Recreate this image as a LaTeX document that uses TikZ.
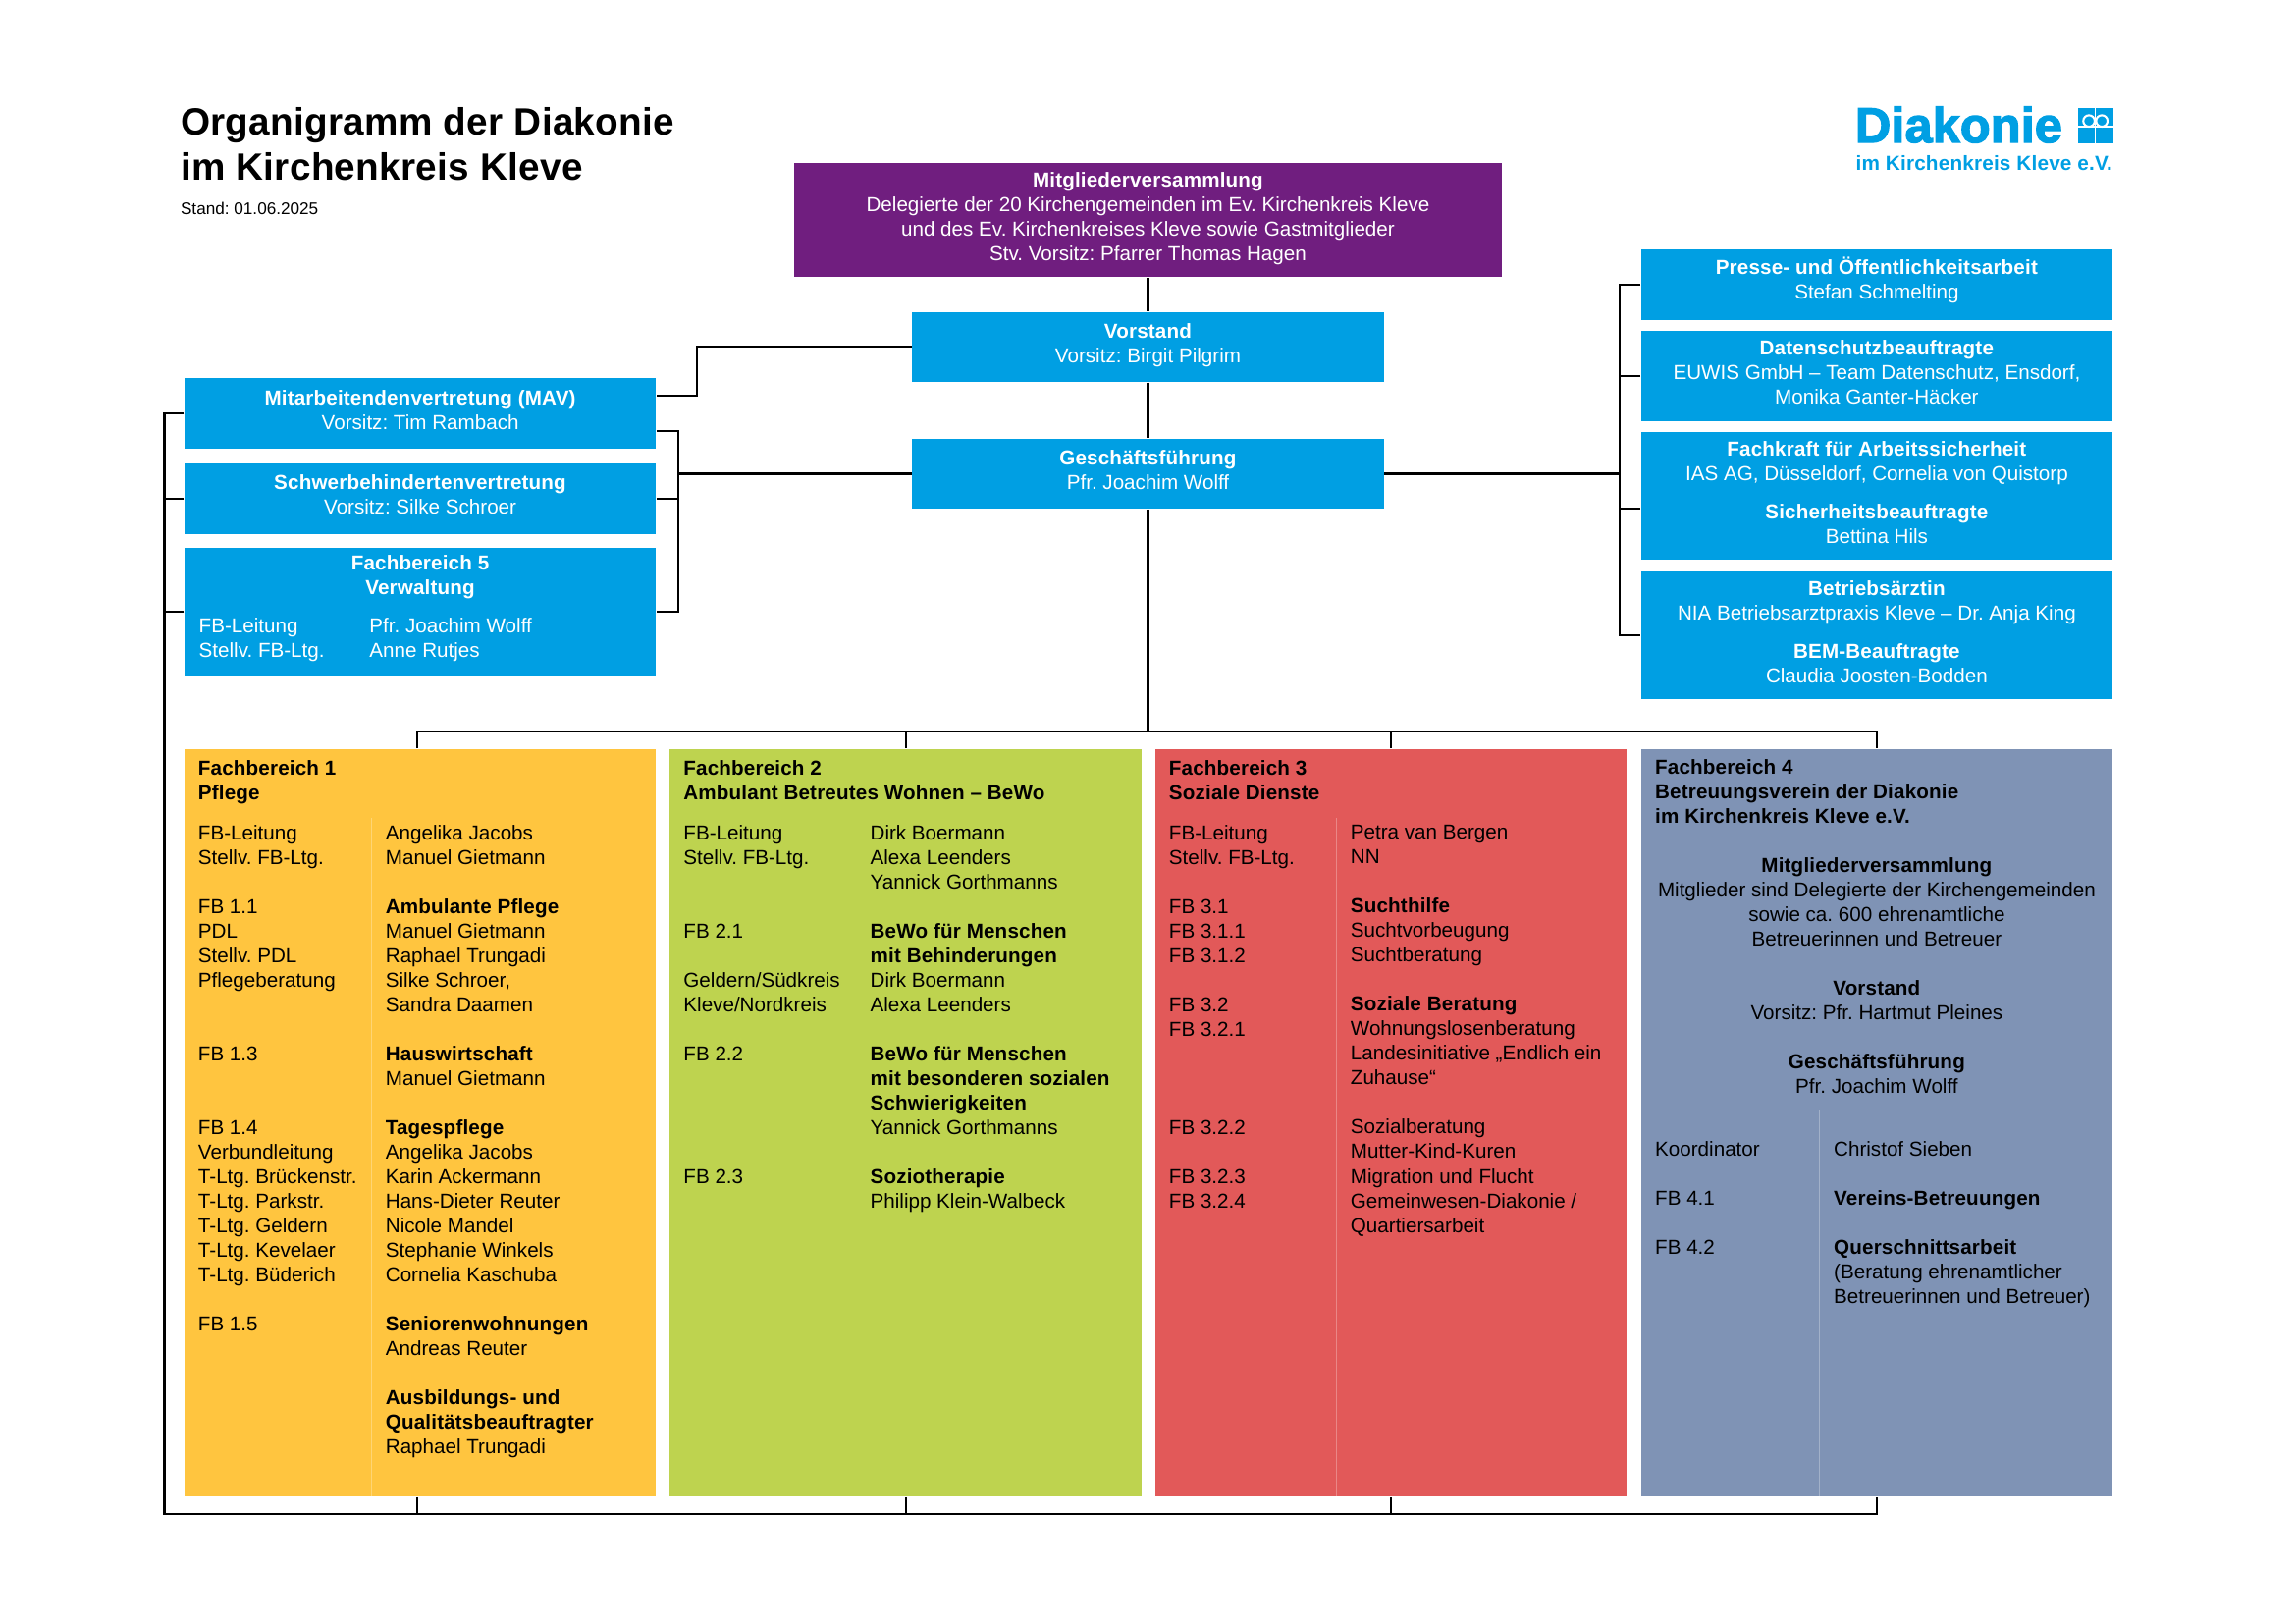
\documentclass[tikz,border=0pt]{standalone}
\usepackage{fontspec}
\setmainfont{Liberation Sans}[BoldFeatures={LetterSpace=0.8}]
\newfontfamily\logofont[FakeBold=2.4]{Liberation Sans Bold}
\usetikzlibrary{positioning,calc}
\definecolor{diablue}{HTML}{009FE3}
\definecolor{diapurple}{HTML}{701E7F}
\definecolor{diayellow}{HTML}{FFC53F}
\definecolor{diagreen}{HTML}{BED34F}
\definecolor{diared}{HTML}{E25959}
\definecolor{diaslate}{HTML}{7F93B5}
\frenchspacing
\tikzset{
  body text/.style={font=\fontsize{7.45}{9.04}\selectfont,inner sep=0pt,execute at begin node=\strut},
  main box/.style={body text,rectangle,fill=diablue,text=white,align=center,minimum width=61mm,
    execute at end node={\rule[-2pt]{0pt}{2pt}}},
  panel/.style={rectangle,minimum width=61mm,minimum height=96.7mm,inner sep=0pt},
  col text/.style={body text,anchor=north west,align=left},
  conn/.style={draw=black,line width=0.8pt},
  sep line/.style={draw=white,draw opacity=0.28,line width=0.4pt},
}
\begin{document}
\begin{tikzpicture}[x=0.18942mm,y=-0.18942mm,on grid]
  \useasboundingbox (0,-0.3) rectangle (1568,1108.3);
  % title
  \node[anchor=north west,inner sep=0pt,align=left,font=\fontsize{13.98}{16.6}\selectfont\bfseries] (title) at (123,73) {Organigramm der Diakonie\\im Kirchenkreis Kleve};
  \node[anchor=north west,inner sep=0pt,font=\fontsize{6.2}{8}\selectfont] (stand) at (123,137.5) {Stand: 01.06.2025};
  % logo
  \node[anchor=base west,inner sep=0pt,text=diablue,font=\logofont\fontsize{18.3}{20}\selectfont] (logo) at (1266.5,97) {Diakonie};
  \node[anchor=base east,inner sep=0pt,text=diablue,font=\fontsize{7.5}{9}\selectfont\bfseries] (logosub) at (1443,115.8) {im Kirchenkreis Kleve e.V.};
  \fill[diablue] (1419,73.7) rectangle (1443,97.5);
  \draw[white,line width=0.5pt] (1419,86.2) -- (1443,86.2) (1431,73.7) -- (1431,97.5);
  \draw[white,line width=0.75pt] (1426.6,82.3) circle (3.9) (1435.4,82.3) circle (3.9);
  % centre column
  \node[main box,fill=diapurple,minimum width=91.5mm,minimum height=14.8mm] (mv) at (784,150) {\textbf{Mitgliederversammlung}\\Delegierte der 20 Kirchengemeinden im Ev. Kirchenkreis Kleve\\und des Ev. Kirchenkreises Kleve sowie Gastmitglieder\\Stv. Vorsitz: Pfarrer Thomas Hagen};
  \node[main box,minimum height=9.1mm] (vor) [below = 16.4mm of mv] {\textbf{Vorstand}\\Vorsitz: Birgit Pilgrim};
  \node[main box,minimum height=9.1mm] (gf) [below = 16.4mm of vor] {\textbf{Geschäftsführung}\\Pfr. Joachim Wolff};
  % left boxes
  \node[main box,minimum height=9.1mm] (mav) at (287,282) {\textbf{Mitarbeitendenvertretung (MAV)}\\Vorsitz: Tim Rambach};
  \node[main box,minimum height=9.1mm] (sbv) [below = 11mm of mav] {\textbf{Schwerbehindertenvertretung}\\Vorsitz: Silke Schroer};
  \node[main box,minimum height=16.5mm] (fb5) at (287,417.5) {};
  \node[body text,text=white,align=center] (fb5head) at (287,395) {\textbf{Fachbereich 5}\\\textbf{Verwaltung}};
  \node[col text,text=white] (fb5left) at (135.5,421.5) {FB-Leitung\\Stellv. FB-Ltg.};
  \node[col text,text=white] (fb5right) at (252,421.5) {Pfr. Joachim Wolff\\Anne Rutjes};
  % right boxes
  \node[main box,minimum height=9.1mm,execute at end node={\rule[-4.8pt]{0pt}{4.8pt}}] (presse) at (1281.7,194) {\textbf{Presse- und Öffentlichkeitsarbeit}\\Stefan Schmelting};
  \node[main box,minimum height=11.6mm] (daten) at (1281.7,256.5) {\textbf{Datenschutzbeauftragte}\\EUWIS GmbH – Team Datenschutz, Ensdorf,\\Monika Ganter-Häcker};
  \node[main box,minimum height=16.5mm] (fachkraft) at (1281.7,338.5) {\textbf{Fachkraft für Arbeitssicherheit}\\IAS AG, Düsseldorf, Cornelia von Quistorp\\[5.2pt]\textbf{Sicherheitsbeauftragte}\\Bettina Hils};
  \node[main box,minimum height=16.5mm] (betrieb) at (1281.7,433.5) {\textbf{Betriebsärztin}\\NIA Betriebsarztpraxis Kleve – Dr. Anja King\\[5.2pt]\textbf{BEM-Beauftragte}\\Claudia Joosten-Bodden};
  % panels
  \node[panel,fill=diayellow] (fb1) at (287,766.3) {};
  \node[panel,fill=diagreen] (fb2) [right = 62.8mm of fb1] {};
  \node[panel,fill=diared] (fb3) [right = 62.8mm of fb2] {};
  \node[panel,fill=diaslate] (fb4) [right = 62.8mm of fb3] {};
  \draw[sep line] (253.6,558) -- (253.6,1021.5);
  \draw[sep line] (912.9,558) -- (912.9,1021.5);
  \draw[sep line] (1242.5,757.6) -- (1242.5,1021.5);
  % FB 1
  \node[col text] (fb1head) at (135,518.3) {\textbf{Fachbereich 1}\\\textbf{Pflege}};
  \node[col text] (fb1left) at (135,562.8) {FB-Leitung\\Stellv. FB-Ltg.\\~\\FB 1.1\\PDL\\Stellv. PDL\\Pflegeberatung\\~\\~\\FB 1.3\\~\\~\\FB 1.4\\Verbundleitung\\T-Ltg. Brückenstr.\\T-Ltg. Parkstr.\\T-Ltg. Geldern\\T-Ltg. Kevelaer\\T-Ltg. Büderich\\~\\FB 1.5};
  \node[col text] (fb1right) at (263,562.8) {Angelika Jacobs\\Manuel Gietmann\\~\\\textbf{Ambulante Pflege}\\Manuel Gietmann\\Raphael Trungadi\\Silke Schroer,\\Sandra Daamen\\~\\\textbf{Hauswirtschaft}\\Manuel Gietmann\\~\\\textbf{Tagespflege}\\Angelika Jacobs\\Karin Ackermann\\Hans-Dieter Reuter\\Nicole Mandel\\Stephanie Winkels\\Cornelia Kaschuba\\~\\\textbf{Seniorenwohnungen}\\Andreas Reuter\\~\\\textbf{Ausbildungs- und}\\\textbf{Qualitätsbeauftragter}\\Raphael Trungadi};
  % FB 2
  \node[col text] (fb2head) at (466.5,518.3) {\textbf{Fachbereich 2}\\\textbf{Ambulant Betreutes Wohnen – BeWo}};
  \node[col text] (fb2left) at (466.5,562.8) {FB-Leitung\\Stellv. FB-Ltg.\\~\\~\\FB 2.1\\~\\Geldern/Südkreis\\Kleve/Nordkreis\\~\\FB 2.2\\~\\~\\~\\~\\FB 2.3};
  \node[col text] (fb2right) at (594,562.8) {Dirk Boermann\\Alexa Leenders\\Yannick Gorthmanns\\~\\\textbf{BeWo für Menschen}\\\textbf{mit Behinderungen}\\Dirk Boermann\\Alexa Leenders\\~\\\textbf{BeWo für Menschen}\\\textbf{mit besonderen sozialen}\\\textbf{Schwierigkeiten}\\Yannick Gorthmanns\\~\\\textbf{Soziotherapie}\\Philipp Klein-Walbeck};
  % FB 3
  \node[col text] (fb3head) at (798,518.3) {\textbf{Fachbereich 3}\\\textbf{Soziale Dienste}};
  \node[col text] (fb3left) at (798,562.8) {FB-Leitung\\Stellv. FB-Ltg.\\~\\FB 3.1\\FB 3.1.1\\FB 3.1.2\\~\\FB 3.2\\FB 3.2.1\\~\\~\\~\\FB 3.2.2\\~\\FB 3.2.3\\FB 3.2.4};
  \node[col text] (fb3right) at (922,562.8) {Petra van Bergen\\NN\\~\\\textbf{Suchthilfe}\\Suchtvorbeugung\\Suchtberatung\\~\\\textbf{Soziale Beratung}\\Wohnungslosenberatung\\Landesinitiative „Endlich ein\\Zuhause“\\~\\Sozialberatung\\Mutter-Kind-Kuren\\Migration und Flucht\\Gemeinwesen-Diakonie /\\Quartiersarbeit};
  % FB 4
  \node[col text] (fb4head) at (1130,517.8) {\textbf{Fachbereich 4}\\\textbf{Betreuungsverein der Diakonie}\\\textbf{im Kirchenkreis Kleve e.V.}};
  \node[body text,anchor=north,align=center] (fb4mid) at (1281.7,584.8) {\textbf{Mitgliederversammlung}\\Mitglieder sind Delegierte der Kirchengemeinden\\sowie ca. 600 ehrenamtliche\\Betreuerinnen und Betreuer\\~\\\textbf{Vorstand}\\Vorsitz: Pfr. Hartmut Pleines\\~\\\textbf{Geschäftsführung}\\Pfr. Joachim Wolff};
  \node[col text] (fb4left) at (1130,778.8) {Koordinator\\~\\FB 4.1\\~\\FB 4.2};
  \node[col text] (fb4right) at (1252,778.8) {Christof Sieben\\~\\\textbf{Vereins-Betreuungen}\\~\\\textbf{Querschnittsarbeit}\\(Beratung ehrenamtlicher\\Betreuerinnen und Betreuer)};
  % connectors
  \coordinate (busc) at (784,499);
  \coordinate (loopc) at (112.3,1033.6);
  \coordinate (leftrail) at (463,323);
  \coordinate (rightrail) at (1106.3,323);
  \coordinate (vorbend) at (476,270);
  \coordinate (fb1top) at ([xshift=-0.38mm]fb1.north);
  \coordinate (fb1bot) at ([xshift=-0.38mm]fb1.south);
  \coordinate (mavup) at ([yshift=2.27mm]mav.east);
  \coordinate (mavlow) at ([yshift=-2.27mm]mav.east);
  \coordinate (fachlow) at ([yshift=-1.6mm]fachkraft.west);
  \draw[conn] (mv.south) -- (vor.north);
  \draw[conn] (vor.south) -- (gf.north);
  \draw[conn] (gf.south) -- (gf.south |- busc);
  \draw[conn] (vor.west) -| (vorbend |- mavup) -- (mavup);
  \draw[conn] (gf.west) -- (gf.west -| leftrail);
  \draw[conn] (mavlow) -| (leftrail) |- (fb5.east);
  \draw[conn] (sbv.east) -- (sbv.east -| leftrail);
  \draw[conn] (gf.east) -- (gf.east -| rightrail);
  \draw[conn] (presse.west) -| (rightrail) |- (betrieb.west);
  \draw[conn] (daten.west) -- (daten.west -| rightrail);
  \draw[conn] (fachlow) -- (fachlow -| rightrail);
  \draw[conn] (fb1top) -- (fb1top |- busc) -- (fb4.north |- busc) -- (fb4.north);
  \draw[conn] (fb2.north) -- (fb2.north |- busc);
  \draw[conn] (fb3.north) -- (fb3.north |- busc);
  \draw[conn] (mav.west) -| (loopc) -- (loopc -| fb4.south) -- (fb4.south);
  \draw[conn] (sbv.west) -- (sbv.west -| loopc);
  \draw[conn] (fb5.west) -- (fb5.west -| loopc);
  \draw[conn] (fb1bot) -- (fb1bot |- loopc);
  \draw[conn] (fb2.south) -- (fb2.south |- loopc);
  \draw[conn] (fb3.south) -- (fb3.south |- loopc);
\end{tikzpicture}
\end{document}
